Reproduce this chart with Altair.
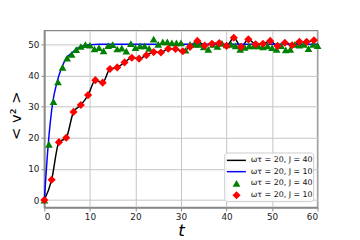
import altair as alt
import pandas as pd

# green triangles (sampled, J=40)
tri_t = list(range(0, 61))
tri_v = [0, 17.9, 31.6, 37.9, 42.6, 45.6, 46.8, 48.3, 49.3, 49.9,
         49.7, 48.5, 48.9, 47.9, 49.6, 49.9, 48.5, 48.8, 47.8, 50.2,
         48.9, 49.5, 49.5, 48.7, 51.7, 50.0, 50.8, 50.8, 50.5, 50.5,
         50.5, 48.1, 50.0, 50.0, 50.0, 49.2, 48.4, 50.0, 49.3, 50.3,
         49.8, 50.0, 49.5, 48.4, 49.0, 49.5, 49.5, 49.5, 49.2, 49.5,
         48.9, 48.4, 49.6, 48.2, 48.4, 50.0, 49.7, 50.0, 48.6, 50.0, 49.6]

# red diamonds (J=10)
dia_t = [round(1.6 * k, 1) for k in range(38)]
dia_v = [0, 6.5, 18.6, 20.0, 28.3, 30.5, 33.7, 38.5, 37.7, 42.1,
         42.6, 44.2, 45.7, 45.4, 46.5, 47.5, 47.4, 48.6, 48.5, 47.8,
         49.2, 51.1, 49.6, 50.2, 50.4, 49.5, 52.1, 49.2, 51.6, 50.0,
         50.2, 51.1, 49.5, 50.5, 49.7, 50.8, 50.8, 51.3]

# blue curve
blue_t = [0, 0.8, 1.8, 2.8, 3.8, 4.8, 6, 7, 8, 9, 10, 12, 15, 20, 30, 40, 50, 60]
blue_v = [0, 17, 31, 38, 42.5, 45.5, 47.2, 48.5, 49.3, 49.7, 49.9, 50, 50, 50, 50, 50, 50, 50]

legend_labels = ["ωτ = 20, J = 40", "ωτ = 20, J = 10", "ωτ = 20, J = 40", "ωτ = 20, J = 10"]
x_ticks = [0, 10, 20, 30, 40, 50, 60]
y_ticks = [0, 10, 20, 30, 40, 50]

black_df = pd.DataFrame({"t": dia_t, "v": dia_v})
blue_df = pd.DataFrame({"t": blue_t, "v": blue_v})
tri_df = pd.DataFrame({"t": tri_t, "v": tri_v})
dia_df = pd.DataFrame({"t": dia_t, "v": dia_v})

xs = alt.Scale(domain=[0, 60], nice=False, zero=False)
ys = alt.Scale(domain=[-2.4, 54.4], nice=False, zero=False)

xax = alt.Axis(values=x_ticks, title="t", titleFont="DejaVu Sans",
               titleFontStyle="italic", titleFontWeight="normal", titleFontSize=17,
               titleX=139, titleY=28, titleBaseline="alphabetic", titleAlign="center")
yax = alt.Axis(values=y_ticks, title="< v² >", titleFont="DejaVu Sans",
               titleFontWeight="normal", titleFontSize=15, titleAngle=270,
               titleX=-29.5, titleY=86, titleBaseline="middle", titleAlign="center")

bx = alt.X("t:Q", scale=xs, axis=xax)
by = alt.Y("v:Q", scale=ys, axis=yax)

black = alt.Chart(black_df).mark_line(interpolate="monotone", strokeWidth=1.5, color="#000000").encode(x=bx, y=by)
blue = alt.Chart(blue_df).mark_line(interpolate="monotone", strokeWidth=1.5, color="#0000ff").encode(x=bx, y=by)
tri = alt.Chart(tri_df).mark_point(filled=True, size=62, opacity=1, shape="triangle-up",
                                   color="#008000").encode(x=bx, y=by)
dia = alt.Chart(dia_df).mark_point(filled=True, size=68, opacity=1, shape="diamond",
                                   color="#ff0000").encode(x=bx, y=by)

# legend (drawn as marks in pixel space)
one = pd.DataFrame({"k": [0]})
rows_y = [132, 143.5, 155.5, 167.5]
leg_box = alt.Chart(one).mark_rect(fill="white", fillOpacity=0.85, stroke="#cccccc",
                                   strokeWidth=1, cornerRadius=3).encode(
    x=alt.value(183.5), x2=alt.value(274), y=alt.value(124.5), y2=alt.value(174))
leg_l1 = alt.Chart(one).mark_rule(color="#000000", strokeWidth=1.5).encode(
    x=alt.value(185.7), x2=alt.value(205), y=alt.value(rows_y[0]))
leg_l2 = alt.Chart(one).mark_rule(color="#0000ff", strokeWidth=1.5).encode(
    x=alt.value(185.7), x2=alt.value(205), y=alt.value(rows_y[1]))
leg_p3 = alt.Chart(one).mark_point(filled=True, size=62, opacity=1, shape="triangle-up",
                                   color="#008000").encode(x=alt.value(195.5), y=alt.value(rows_y[2]))
leg_p4 = alt.Chart(one).mark_point(filled=True, size=68, opacity=1, shape="diamond",
                                   color="#ff0000").encode(x=alt.value(195.5), y=alt.value(rows_y[3]))
leg_texts = [
    alt.Chart(pd.DataFrame({"label": [lab]})).mark_text(
        align="left", baseline="middle", font="DejaVu Sans", fontSize=8, color="#111111").encode(
        x=alt.value(210), y=alt.value(yv), text="label:N")
    for lab, yv in zip(legend_labels, rows_y)
]

chart = alt.layer(black, blue, tri, dia, leg_box, leg_l1, leg_l2, leg_p3, leg_p4, *leg_texts).properties(
    width=278, height=180,
    autosize=alt.AutoSizeParams(type="none"),
    padding={"left": 37, "top": 21, "right": 35, "bottom": 31},
).configure_view(stroke="#888888", strokeWidth=1.5).configure_axis(
    grid=True, gridColor="#c4c4c4", gridWidth=1,
    domainColor="#888888", domainWidth=1.5,
    tickColor="#888888", tickSize=3.5, tickWidth=1,
    labelFont="DejaVu Sans", labelFontSize=9, labelColor="#222222", labelPadding=2,
    titleColor="#000000",
)

chart.save("out.html", embed_options={"renderer": "svg", "actions": False})
